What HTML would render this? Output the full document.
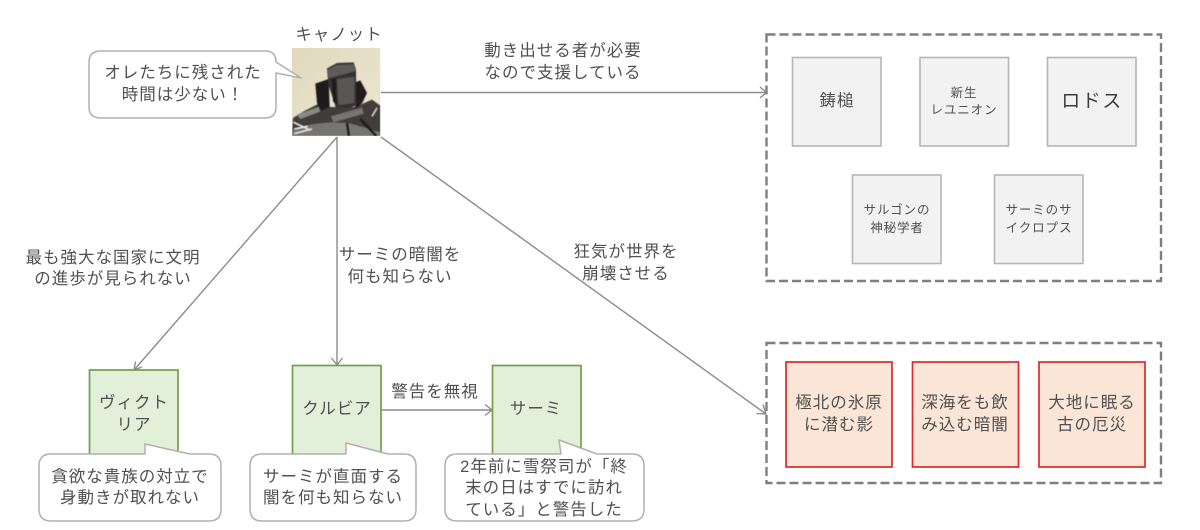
<!DOCTYPE html>
<html lang="ja">
<head>
<meta charset="utf-8">
<title>キャノット</title>
<style>
html,body{margin:0;padding:0;background:#fff;width:1200px;height:530px;overflow:hidden}
svg{display:block}
text{font-family:"Liberation Sans","Noto Sans CJK JP",sans-serif;font-size:16.500px;letter-spacing:1px;fill:#505050;text-anchor:middle}
.s{font-size:12.500px;letter-spacing:.9px}
.l{font-size:19px;letter-spacing:1.500px;fill:#3c3c3c}
.line{stroke:#8c8c8c;stroke-width:1.400;fill:none}
.green{fill:#e2efd9;stroke:#70a04c;stroke-width:1.700}
.grey{fill:#f2f2f2;stroke:#b5b5b5;stroke-width:1.600}
.red{fill:#fbe5d6;stroke:#d92b2b;stroke-width:1.700}
.dash{fill:none;stroke:#7f7f7f;stroke-width:2.400;stroke-dasharray:9 4}
.call{fill:#fff;stroke:#b0b0b0;stroke-width:1.500;stroke-linejoin:round}
</style>
</head>
<body>
<svg width="1200" height="530" viewBox="0 0 1200 530" xmlns="http://www.w3.org/2000/svg">
<defs>
<linearGradient id="bg" x1="0" y1="0" x2="1" y2="1"><stop offset="0" stop-color="#e2d9bc"/><stop offset="1" stop-color="#ebe6d4"/></linearGradient>
<filter id="soft" x="-5%" y="-5%" width="110%" height="110%"><feGaussianBlur stdDeviation="1.300"/></filter>
<clipPath id="pic"><rect x="15" y="15" width="265" height="264"/></clipPath>
</defs>

<!-- connectors -->
<path class="line" d="M381 92.500H766M760 87l6.500 5.500-6.500 5.500"/>
<path class="line" d="M337 137V365M331.500 358l5.500 7 5.500-7"/>
<path class="line" d="M337 137L134 370M135.500 361.500L134 370l8-3"/>
<path class="line" d="M381 137L766 414M756.500 413.500l9.500.5-3-9.500"/>
<path class="line" d="M381 410H492M485 404.500l7 5.500-7 5.500"/>

<!-- portrait -->
<g transform="translate(287 43) scale(.33333)" clip-path="url(#pic)">
<rect x="15" y="15" width="265" height="264" fill="url(#bg)"/>
<g filter="url(#soft)">
<path d="M18 225L50 205L95 182L130 192L205 192L255 170L280 188V279H15Z" fill="#3f3c3a"/>
<path d="M15 262L70 245L130 238L185 240L280 268V279H15Z" fill="#777471"/>
<path d="M85 122L125 108L128 192L100 205L90 180Z" fill="#1f1d1c"/>
<path d="M205 118L220 112L240 150L226 180L205 198Z" fill="#211f1e"/>
<path d="M120 76L150 60L200 58L207 80L208 188L180 196L146 192L124 125Z" fill="#363331"/>
<path d="M122 80L150 66L200 64L206 84L145 100L124 106Z" fill="#5f5b58"/>
<path d="M150 108L202 102L202 180L154 186Z" fill="#5a5654"/>
<path d="M134 108L146 106L150 186L138 175Z" fill="#1f1d1c"/>
<path d="M132 220L225 194L230 212L140 238Z" fill="#777370"/>
<path d="M30 215L95 192L100 205L40 228Z" fill="#8d8884"/>
<path d="M20 238L70 262M22 258L62 250M22 272L75 258" stroke="#f0eeea" stroke-width="4" fill="none"/>
<path d="M180 240L186 279M220 228L268 279" stroke="#1f1d1c" stroke-width="8" fill="none"/>
<path d="M255 220L270 195" stroke="#d9d6d0" stroke-width="4" fill="none"/>
</g>
</g>

<!-- top callout -->
<path class="call" d="M101 51H265Q276 51 276 62L301 78L276 73V107Q276 118 265 118H101Q89 118 89 107V62Q89 51 101 51Z"/>
<text x="339" y="40">キャノット</text>
<text x="183" y="78">オレたちに残された</text>
<text x="183" y="100">時間は少ない！</text>

<!-- edge labels -->
<text x="563" y="56">動き出せる者が必要</text>
<text x="563" y="78">なので支援している</text>
<text x="113" y="263">最も強大な国家に文明</text>
<text x="113" y="284">の進歩が見られない</text>
<text x="400" y="260">サーミの暗闇を</text>
<text x="400" y="282">何も知らない</text>
<text x="626" y="257">狂気が世界を</text>
<text x="626" y="279">崩壊させる</text>
<text x="435" y="397">警告を無視</text>

<!-- green nodes -->
<rect class="green" x="89.500" y="370" width="88.500" height="90"/>
<rect class="green" x="292.500" y="365.500" width="88.500" height="95"/>
<rect class="green" x="492.500" y="365.500" width="88.500" height="95"/>
<text x="134" y="408">ヴィクト</text>
<text x="134" y="430">リア</text>
<text x="337" y="414">クルビア</text>
<text x="536" y="414">サーミ</text>

<!-- lower callouts -->
<path class="call" d="M51 454H145V444L190 454H209Q221 454 221 466V509Q221 521 209 521H51Q39 521 39 509V466Q39 454 51 454Z"/>
<path class="call" d="M262 454H346V443L388 454H404Q416 454 416 466V509Q416 521 404 521H262Q250 521 250 509V466Q250 454 262 454Z"/>
<path class="call" d="M457 454H561L559 440L597 454H632Q644 454 644 466V509Q644 521 632 521H457Q445 521 445 509V466Q445 454 457 454Z"/>
<text x="130" y="482">貪欲な貴族の対立で</text>
<text x="130" y="503">身動きが取れない</text>
<text x="333" y="482">サーミが直面する</text>
<text x="333" y="503">闇を何も知らない</text>
<text x="544" y="472">2年前に雪祭司が「終</text>
<text x="544" y="493">末の日はすでに訪れ</text>
<text x="544" y="515">ている」と警告した</text>

<!-- top group -->
<rect class="dash" x="766.500" y="34.500" width="394.500" height="246.500"/>
<rect class="grey" x="792.500" y="57.500" width="88.500" height="88.500"/>
<rect class="grey" x="920" y="57.500" width="88.500" height="88.500"/>
<rect class="grey" x="1047.500" y="57.500" width="88.500" height="88.500"/>
<rect class="grey" x="852.500" y="175" width="88.500" height="88.500"/>
<rect class="grey" x="994.500" y="175" width="88.500" height="88.500"/>
<text x="837" y="106">鋳槌</text>
<text class="s" x="964" y="97">新生</text>
<text class="s" x="964" y="114">レユニオン</text>
<text class="l" x="1092" y="107">ロドス</text>
<text class="s" x="897" y="214">サルゴンの</text>
<text class="s" x="897" y="232">神秘学者</text>
<text class="s" x="1039" y="214">サーミのサ</text>
<text class="s" x="1039" y="232">イクロプス</text>

<!-- bottom group -->
<rect class="dash" x="766.500" y="343" width="394.500" height="140"/>
<rect class="red" x="786" y="362" width="106" height="105"/>
<rect class="red" x="912.500" y="362" width="106" height="105"/>
<rect class="red" x="1039" y="362" width="106" height="105"/>
<text x="839" y="408">極北の氷原</text>
<text x="839" y="430">に潜む影</text>
<text x="965" y="408">深海をも飲</text>
<text x="965" y="430">み込む暗闇</text>
<text x="1092" y="408">大地に眠る</text>
<text x="1092" y="430">古の厄災</text>
</svg>
</body>
</html>
